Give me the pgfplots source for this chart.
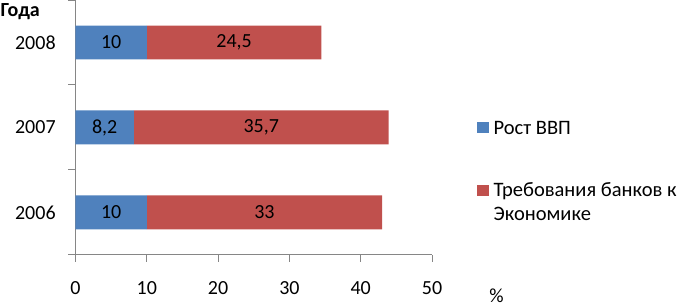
\documentclass[border=0pt]{standalone}
\usepackage{pgfplots}
\pgfplotsset{compat=1.18}
\usepackage{fontspec}
\setmainfont{Carlito}
\definecolor{cblue}{HTML}{4F81BD}
\definecolor{cred}{HTML}{C0504D}
\definecolor{caxis}{HTML}{868686}
\begin{document}
\fontsize{20}{24}\selectfont
\begin{tikzpicture}
\useasboundingbox (0,0) rectangle (681pt,308pt);
\pgfplotsset{myaxis/.style={
  at={(75.5pt,53pt)}, anchor=south west,
  width=356.5pt, height=255pt, scale only axis,
  xmin=0, xmax=50, ymin=-0.5, ymax=2.5,
}}
\begin{axis}[myaxis,
  xbar stacked, bar width=0.4,
  axis x line*=bottom, axis y line*=left,
  axis line style={caxis, line width=1pt, -},
  every tick/.style={caxis, line width=1pt},
  xtick={0,10,20,30,40,50},
  ytick={0,1,2}, yticklabels={2006,2007,2008},
  minor ytick={-0.5,0.5,1.5,2.5},
  tick align=outside,
  major tick length=7pt, minor tick length=7pt,
  major y tick style={draw=none},
  ticklabel style={font=\fontsize{20}{24}\selectfont},
  /pgf/number format/assume math mode=true,
  xticklabel shift=13pt,
  yticklabel shift=6pt,
  legend style={draw=none, fill=none, at={(1.1245,0.534)}, anchor=north west,
    font=\fontsize{20.5}{24}\selectfont, row sep=42.5pt, column sep=5pt,
    inner sep=0pt, nodes={inner sep=0pt, text height=15pt, text depth=5pt}},
  legend cell align=left,
  legend image code/.code={\fill[#1,draw=none] (0pt,-4pt) rectangle (12pt,7pt);},
]
\addplot[fill=cblue, draw=none] coordinates {(10,0) (8.2,1) (10,2)};
\addlegendentry{Рост ВВП}
\addplot[fill=cred, draw=none] coordinates {(33,0) (35.7,1) (24.5,2)};
\addlegendentry{\begin{tabular}[t]{@{}l@{}}Требования банков к\\Экономике\end{tabular}}
\end{axis}
\begin{axis}[myaxis, hide axis, clip=false, /pgf/number format/assume math mode=true]
\addplot[draw=none, mark=none, point meta=explicit,
  nodes near coords={\pgfmathprintnumber[use comma,assume math mode=true]{\pgfplotspointmeta}},
  every node near coord/.append style={anchor=center, font=\fontsize{20}{24}\selectfont, text=black}]
  coordinates {(5,0)[10] (26.5,0)[33] (4.1,1)[8.2] (26.05,1)[35.7] (5,2)[10] (22.25,2)[24.5]};
\end{axis}
\node[anchor=north west, inner sep=0pt, font=\bfseries] at (0.5pt,305pt) {Года};
\node[anchor=base, inner sep=0pt] at (496.5pt,5pt) {\%};
\end{tikzpicture}
\end{document}
